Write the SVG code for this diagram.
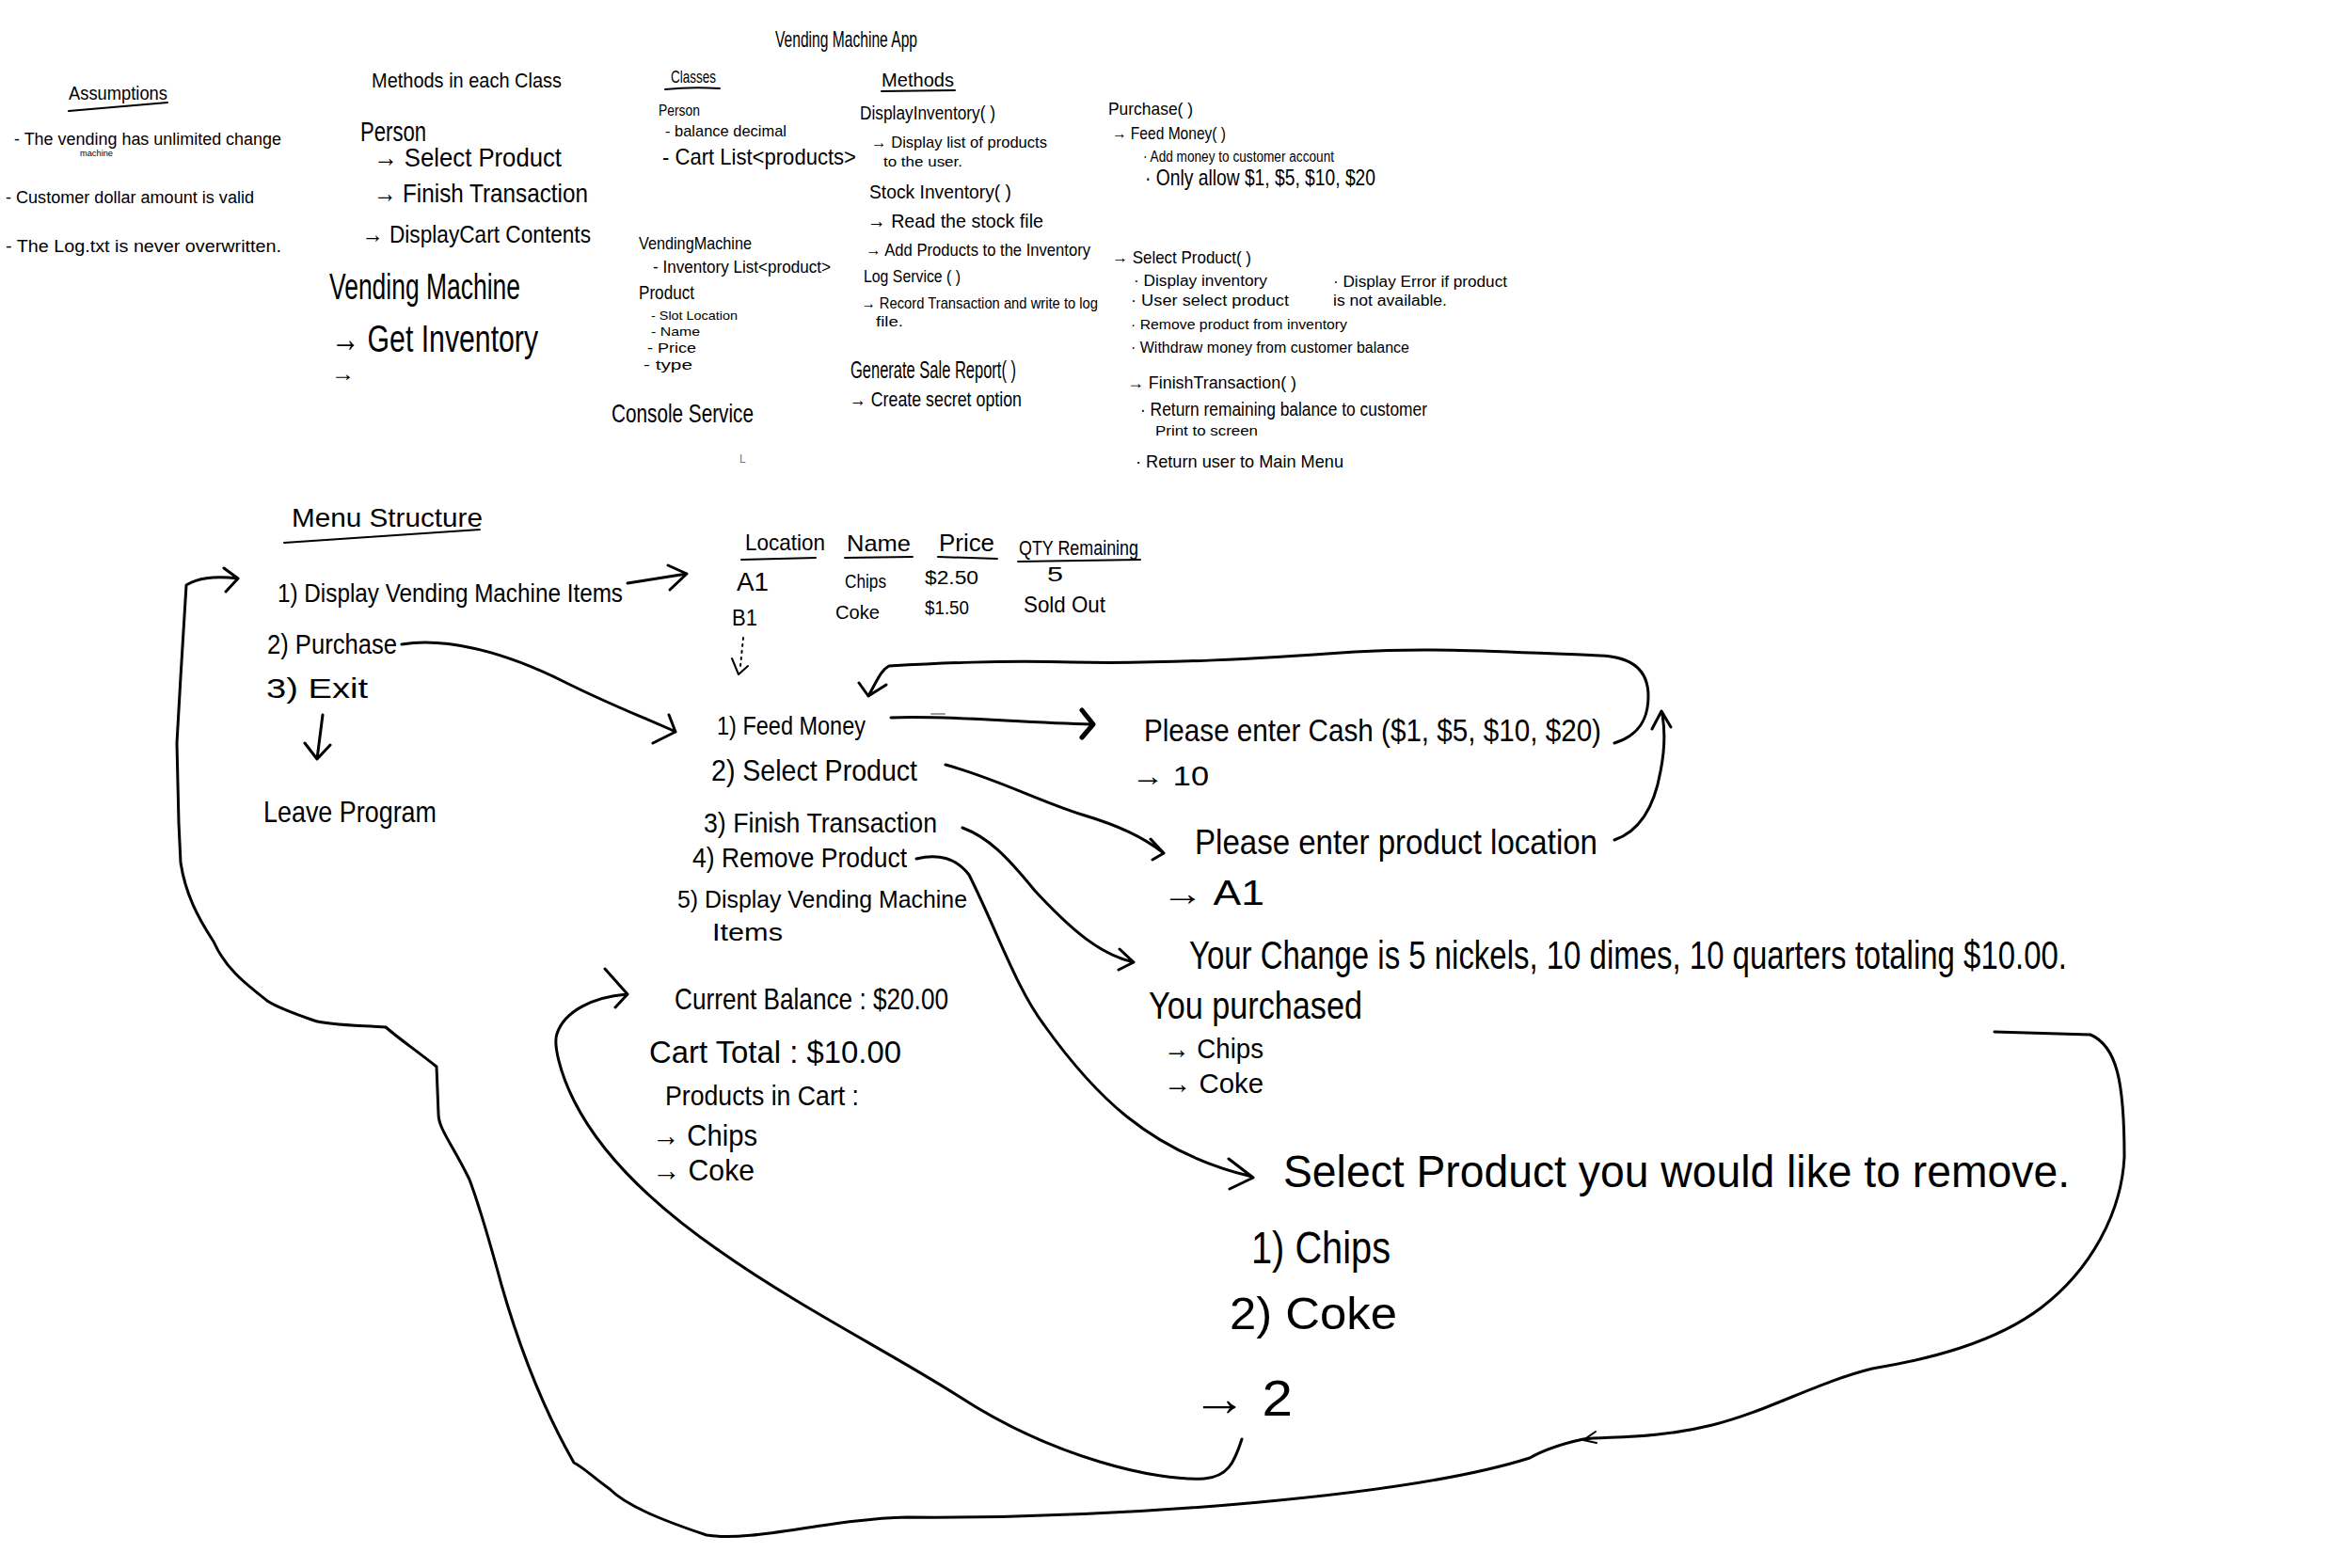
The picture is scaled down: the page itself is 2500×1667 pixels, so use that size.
<svg xmlns="http://www.w3.org/2000/svg" width="2500" height="1667" viewBox="0 0 2500 1667">
<style>
text{font-family:"Liberation Sans","DejaVu Sans",sans-serif;fill:#000;}
.ln{fill:none;stroke:#000;stroke-width:3;stroke-linecap:round;stroke-linejoin:round;}
.lt{fill:none;stroke:#000;stroke-width:2;stroke-linecap:round;stroke-linejoin:round;}
.bd{fill:none;stroke:#000;stroke-width:5;stroke-linecap:round;stroke-linejoin:round;}
.gr{fill:none;stroke:#999;stroke-width:2;stroke-linecap:round;}
</style>
<rect width="2500" height="1667" fill="#fff"/>

<g id="assumptions">
<text x="73" y="106" font-size="20" textLength="105" lengthAdjust="spacingAndGlyphs">Assumptions</text>
<path class="lt" d="M73,118 L178,109"/>
<text x="15" y="154" font-size="18" textLength="284" lengthAdjust="spacingAndGlyphs">- The vending has unlimited change</text>
<text x="85" y="166" font-size="9" textLength="35" lengthAdjust="spacingAndGlyphs">machine</text>
<text x="6" y="216" font-size="18" textLength="264" lengthAdjust="spacingAndGlyphs">- Customer dollar amount is valid</text>
<text x="6" y="268" font-size="18" textLength="293" lengthAdjust="spacingAndGlyphs">- The Log.txt is never overwritten.</text>
</g>

<g id="methods-in-each-class">
<text x="395" y="93" font-size="22" textLength="202" lengthAdjust="spacingAndGlyphs">Methods in each Class</text>
<text x="383" y="150" font-size="30" textLength="70" lengthAdjust="spacingAndGlyphs">Person</text>
<text x="397" y="177" font-size="28" textLength="200" lengthAdjust="spacingAndGlyphs">→ Select Product</text>
<text x="397" y="215" font-size="28" textLength="228" lengthAdjust="spacingAndGlyphs">→ Finish Transaction</text>
<text x="385" y="258" font-size="26" textLength="243" lengthAdjust="spacingAndGlyphs">→ DisplayCart Contents</text>
<text x="350" y="318" font-size="38" textLength="203" lengthAdjust="spacingAndGlyphs">Vending Machine</text>
<text x="352" y="374" font-size="40" textLength="220" lengthAdjust="spacingAndGlyphs">→ Get Inventory</text>
<text x="352" y="405" font-size="24" textLength="25" lengthAdjust="spacingAndGlyphs">→</text>
</g>

<g id="app-title">
<text x="824" y="50" font-size="24" textLength="151" lengthAdjust="spacingAndGlyphs">Vending Machine App</text>
</g>

<g id="classes">
<text x="713" y="88" font-size="18" textLength="48" lengthAdjust="spacingAndGlyphs">Classes</text>
<path class="lt" d="M707,95 Q735,92 765,94"/>
<text x="700" y="123" font-size="17" textLength="44" lengthAdjust="spacingAndGlyphs">Person</text>
<text x="707" y="145" font-size="17" textLength="129" lengthAdjust="spacingAndGlyphs">- balance decimal</text>
<text x="704" y="175" font-size="24" textLength="206" lengthAdjust="spacingAndGlyphs">- Cart  List&lt;products&gt;</text>
<text x="679" y="265" font-size="19" textLength="120" lengthAdjust="spacingAndGlyphs">VendingMachine</text>
<text x="694" y="290" font-size="18" textLength="189" lengthAdjust="spacingAndGlyphs">- Inventory List&lt;product&gt;</text>
<text x="679" y="318" font-size="20" textLength="59" lengthAdjust="spacingAndGlyphs">Product</text>
<text x="692" y="340" font-size="13" textLength="92" lengthAdjust="spacingAndGlyphs">- Slot Location</text>
<text x="692" y="357" font-size="13" textLength="52" lengthAdjust="spacingAndGlyphs">- Name</text>
<text x="688" y="375" font-size="14" textLength="52" lengthAdjust="spacingAndGlyphs">- Price</text>
<text x="684" y="393" font-size="14" textLength="52" lengthAdjust="spacingAndGlyphs">- type</text>
<text x="650" y="449" font-size="28" textLength="151" lengthAdjust="spacingAndGlyphs">Console Service</text>
<text x="786" y="492" font-size="12" style="fill:#777">L</text>
</g>

<g id="methods">
<text x="937" y="92" font-size="20" textLength="77" lengthAdjust="spacingAndGlyphs">Methods</text>
<path class="lt" d="M937,97 L1015,96"/>
<text x="914" y="127" font-size="20" textLength="144" lengthAdjust="spacingAndGlyphs">DisplayInventory( )</text>
<text x="926" y="157" font-size="17" textLength="187" lengthAdjust="spacingAndGlyphs">→ Display list of products</text>
<text x="939" y="177" font-size="14" textLength="84" lengthAdjust="spacingAndGlyphs">to the user.</text>
<text x="924" y="211" font-size="20" textLength="151" lengthAdjust="spacingAndGlyphs">Stock Inventory( )</text>
<text x="922" y="242" font-size="21" textLength="187" lengthAdjust="spacingAndGlyphs">→ Read the stock file</text>
<text x="920" y="272" font-size="19" textLength="239" lengthAdjust="spacingAndGlyphs">→ Add Products to the Inventory</text>
<text x="918" y="300" font-size="18" textLength="103" lengthAdjust="spacingAndGlyphs">Log Service ( )</text>
<text x="916" y="328" font-size="17" textLength="251" lengthAdjust="spacingAndGlyphs">→ Record Transaction and write to log</text>
<text x="931" y="347" font-size="14" textLength="29" lengthAdjust="spacingAndGlyphs">file.</text>
<text x="904" y="402" font-size="25" textLength="176" lengthAdjust="spacingAndGlyphs">Generate Sale Report( )</text>
<text x="903" y="432" font-size="22" textLength="183" lengthAdjust="spacingAndGlyphs">→ Create secret option</text>
</g>

<g id="purchase-methods">
<text x="1178" y="122" font-size="19" textLength="90" lengthAdjust="spacingAndGlyphs">Purchase( )</text>
<text x="1182" y="148" font-size="19" textLength="121" lengthAdjust="spacingAndGlyphs">→ Feed Money( )</text>
<text x="1215" y="172" font-size="16" textLength="203" lengthAdjust="spacingAndGlyphs">· Add money to customer account</text>
<text x="1217" y="197" font-size="24" textLength="245" lengthAdjust="spacingAndGlyphs">· Only allow $1, $5, $10, $20</text>
<text x="1182" y="280" font-size="19" textLength="148" lengthAdjust="spacingAndGlyphs">→ Select Product( )</text>
<text x="1205" y="304" font-size="16" textLength="142" lengthAdjust="spacingAndGlyphs">· Display inventory</text>
<text x="1417" y="305" font-size="16" textLength="185" lengthAdjust="spacingAndGlyphs">· Display Error if product</text>
<text x="1417" y="325" font-size="16" textLength="121" lengthAdjust="spacingAndGlyphs">is not available.</text>
<text x="1202" y="325" font-size="16" textLength="168" lengthAdjust="spacingAndGlyphs">· User select product</text>
<text x="1202" y="350" font-size="14" textLength="230" lengthAdjust="spacingAndGlyphs">· Remove product from inventory</text>
<text x="1202" y="375" font-size="16" textLength="296" lengthAdjust="spacingAndGlyphs">· Withdraw money from customer balance</text>
<text x="1198" y="413" font-size="18" textLength="180" lengthAdjust="spacingAndGlyphs">→ FinishTransaction( )</text>
<text x="1212" y="442" font-size="20" textLength="305" lengthAdjust="spacingAndGlyphs">· Return remaining balance to customer</text>
<text x="1228" y="463" font-size="14" textLength="109" lengthAdjust="spacingAndGlyphs">Print to screen</text>
<text x="1207" y="497" font-size="19" textLength="221" lengthAdjust="spacingAndGlyphs">· Return user to Main Menu</text>
</g>

<g id="main-menu">
<text x="310" y="560" font-size="28" textLength="203" lengthAdjust="spacingAndGlyphs">Menu Structure</text>
<path class="lt" d="M302,577 L510,563"/>
<text x="295" y="640" font-size="28" textLength="367" lengthAdjust="spacingAndGlyphs">1) Display Vending Machine Items</text>
<text x="284" y="695" font-size="30" textLength="138" lengthAdjust="spacingAndGlyphs">2) Purchase</text>
<text x="283" y="742" font-size="30" textLength="108" lengthAdjust="spacingAndGlyphs">3) Exit</text>
</g>

<g id="leave-program">
<text x="280" y="874" font-size="32" textLength="184" lengthAdjust="spacingAndGlyphs">Leave Program</text>
</g>

<g id="inventory-table">
<text x="792" y="585" font-size="24" textLength="85" lengthAdjust="spacingAndGlyphs">Location</text>
<path class="lt" d="M788,595 L867,593"/>
<text x="900" y="586" font-size="24" textLength="68" lengthAdjust="spacingAndGlyphs">Name</text>
<path class="lt" d="M898,593 L970,592"/>
<text x="998" y="586" font-size="26" textLength="59" lengthAdjust="spacingAndGlyphs">Price</text>
<path class="lt" d="M997,592 L1060,594"/>
<text x="1083" y="590" font-size="22" textLength="127" lengthAdjust="spacingAndGlyphs">QTY Remaining</text>
<path class="lt" d="M1082,597 L1212,595"/>
<text x="783" y="628" font-size="28" textLength="34" lengthAdjust="spacingAndGlyphs">A1</text>
<text x="898" y="625" font-size="20" textLength="44" lengthAdjust="spacingAndGlyphs">Chips</text>
<text x="983" y="621" font-size="20" textLength="57" lengthAdjust="spacingAndGlyphs">$2.50</text>
<text x="1113" y="618" font-size="22" textLength="17" lengthAdjust="spacingAndGlyphs">5</text>
<text x="778" y="665" font-size="24" textLength="27" lengthAdjust="spacingAndGlyphs">B1</text>
<text x="888" y="658" font-size="20" textLength="47" lengthAdjust="spacingAndGlyphs">Coke</text>
<text x="983" y="653" font-size="20" textLength="47" lengthAdjust="spacingAndGlyphs">$1.50</text>
<text x="1088" y="651" font-size="24" textLength="87" lengthAdjust="spacingAndGlyphs">Sold Out</text>
</g>

<g id="purchase-menu">
<text x="762" y="781" font-size="28" textLength="158" lengthAdjust="spacingAndGlyphs">1) Feed Money</text>
<text x="756" y="830" font-size="32" textLength="219" lengthAdjust="spacingAndGlyphs">2) Select Product</text>
<text x="748" y="885" font-size="30" textLength="248" lengthAdjust="spacingAndGlyphs">3) Finish Transaction</text>
<text x="736" y="922" font-size="30" textLength="228" lengthAdjust="spacingAndGlyphs">4) Remove Product</text>
<text x="720" y="965" font-size="26" textLength="308" lengthAdjust="spacingAndGlyphs">5) Display Vending Machine</text>
<text x="757" y="1000" font-size="26" textLength="75" lengthAdjust="spacingAndGlyphs">Items</text>
</g>

<g id="balance">
<text x="717" y="1073" font-size="32" textLength="291" lengthAdjust="spacingAndGlyphs">Current Balance : $20.00</text>
<text x="690" y="1130" font-size="34" textLength="268" lengthAdjust="spacingAndGlyphs">Cart Total : $10.00</text>
<text x="707" y="1175" font-size="30" textLength="206" lengthAdjust="spacingAndGlyphs">Products in Cart :</text>
<text x="693" y="1218" font-size="32" textLength="112" lengthAdjust="spacingAndGlyphs">→ Chips</text>
<text x="693" y="1255" font-size="32" textLength="109" lengthAdjust="spacingAndGlyphs">→ Coke</text>
</g>

<g id="cash-prompt">
<text x="1216" y="788" font-size="34" textLength="486" lengthAdjust="spacingAndGlyphs">Please enter Cash  ($1, $5, $10, $20)</text>
<text x="1203" y="835" font-size="30" textLength="82" lengthAdjust="spacingAndGlyphs">→ 10</text>
</g>

<g id="location-prompt">
<text x="1270" y="908" font-size="36" textLength="428" lengthAdjust="spacingAndGlyphs">Please enter product location</text>
<text x="1235" y="962" font-size="36" textLength="109" lengthAdjust="spacingAndGlyphs">→ A1</text>
</g>

<g id="change-output">
<text x="1264" y="1030" font-size="42" textLength="933" lengthAdjust="spacingAndGlyphs">Your Change is 5 nickels, 10 dimes, 10 quarters totaling $10.00.</text>
<text x="1221" y="1083" font-size="40" textLength="227" lengthAdjust="spacingAndGlyphs">You purchased</text>
<text x="1237" y="1125" font-size="30" textLength="106" lengthAdjust="spacingAndGlyphs">→ Chips</text>
<text x="1237" y="1162" font-size="30" textLength="106" lengthAdjust="spacingAndGlyphs">→ Coke</text>
</g>

<g id="remove-prompt">
<text x="1364" y="1262" font-size="48" textLength="836" lengthAdjust="spacingAndGlyphs">Select Product you would like to remove.</text>
<text x="1330" y="1343" font-size="48" textLength="148" lengthAdjust="spacingAndGlyphs">1) Chips</text>
<text x="1307" y="1413" font-size="48" textLength="178" lengthAdjust="spacingAndGlyphs">2) Coke</text>
<text x="1267" y="1505" font-size="54" textLength="107" lengthAdjust="spacingAndGlyphs">→ 2</text>
</g>

<g id="connectors">
<path class="ln" d="M667,620 L730,610 M710,601 L730,610 L712,627"/>
<path class="ln" d="M427,685 C470,678 530,690 600,725 C650,750 690,765 718,778 M711,760 L718,778 L694,790"/>
<path class="ln" d="M343,760 L337,807 M324,790 L337,807 L351,792"/>
<path class="lt" stroke-dasharray="2 5" d="M790,678 L787,708"/>
<path class="lt" d="M778,700 L785,717 L795,708"/>
<path class="ln" d="M947,763 C1000,760 1080,768 1160,770"/>
<path class="bd" d="M1150,755 L1162,770 L1150,784"/>
<path class="gr" d="M990,759 L1004,759"/>
<path class="ln" d="M1716,790 C1742,782 1752,765 1752,740 C1752,712 1735,698 1700,697 C1600,693 1520,688 1440,693 C1340,700 1240,706 1140,704 C1060,702 1000,705 945,708 C937,712 933,722 923,740 M913,726 L923,740 L942,728"/>
<path class="ln" d="M1716,893 C1742,884 1758,860 1765,820 C1770,795 1770,778 1767,760 M1756,775 L1766,756 L1776,773"/>
<path class="ln" d="M1005,813 C1060,828 1100,850 1150,866 C1190,878 1215,890 1237,907 M1223,892 L1237,907 L1225,914"/>
<path class="ln" d="M1023,880 C1050,890 1070,910 1100,947 C1140,990 1170,1015 1205,1023 M1190,1009 L1205,1023 L1189,1031"/>
<path class="ln" d="M974,913 C995,908 1015,910 1030,930 C1060,990 1080,1050 1110,1090 C1160,1160 1220,1225 1331,1251 M1306,1232 L1332,1252 L1307,1264"/>
<path class="ln" d="M1320,1530 C1312,1555 1305,1570 1280,1572 C1230,1575 1120,1550 1020,1485 C950,1440 850,1390 765,1330 C700,1285 640,1230 610,1170 C595,1140 588,1110 592,1099 C600,1075 630,1060 666,1057 M643,1030 L667,1057 L654,1071"/>
<path class="ln" d="M2120,1097 L2222,1100 C2250,1112 2258,1150 2258,1230 C2255,1290 2222,1350 2170,1390 C2120,1428 2050,1445 1990,1455 C1930,1470 1880,1500 1820,1515 C1760,1530 1710,1527 1683,1530 C1660,1535 1640,1542 1626,1550 C1500,1590 1200,1615 964,1613 C880,1615 800,1640 751,1632 C700,1615 665,1600 648,1583 C630,1570 620,1560 610,1555 C590,1520 560,1460 533,1366 C515,1300 505,1270 499,1254 C480,1215 466,1200 466,1184 L464,1134 C440,1115 425,1105 410,1092 C380,1090 350,1090 334,1085 C305,1075 290,1068 284,1064 C260,1045 240,1030 227,1001 C210,975 197,950 192,917 L190,875 L188,790 L192,720 L198,622 C210,615 225,612 253,615 M238,604 L253,615 L240,629"/>
<path class="lt" d="M1696,1522 L1683,1531 L1697,1534"/>
</g>
</svg>
